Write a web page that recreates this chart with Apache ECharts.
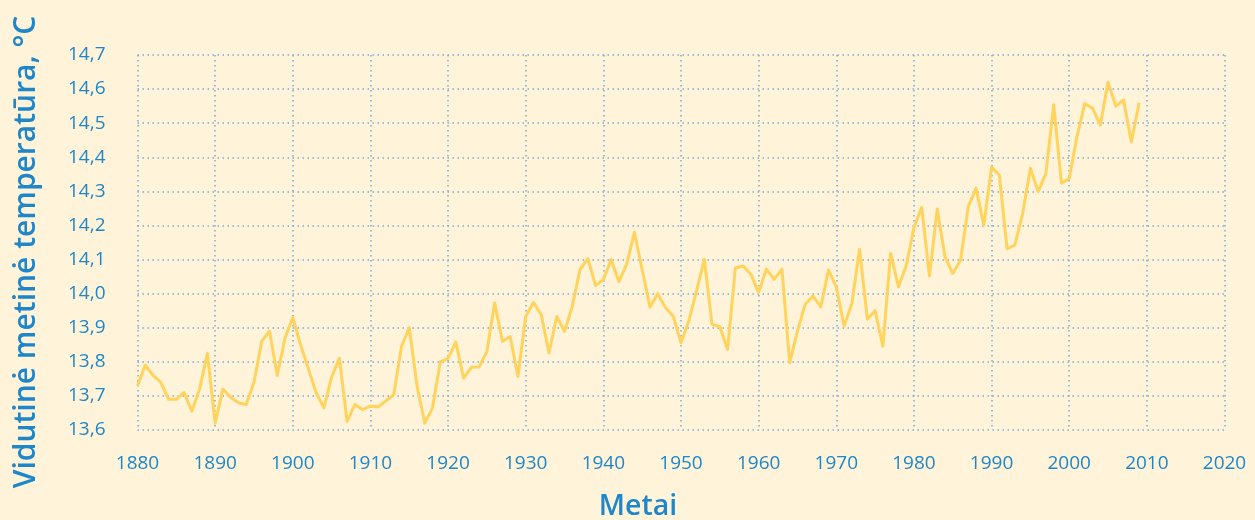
<!DOCTYPE html>
<html>
<head>
<meta charset="utf-8">
<script src="https://cdn.jsdelivr.net/npm/echarts@6/dist/echarts.min.js"></script>
<style>
  html, body { margin: 0; padding: 0; background: #fff4d9; }
  #chart { width: 1255px; height: 520px; }
</style>
</head>
<body>
<div id="chart"></div>
<script>
// ---- data ----
const firstYear = 1880;
const temps1880s = [13.73, 13.79, 13.76, 13.74, 13.69, 13.69, 13.71, 13.655, 13.72, 13.825];
const temps1890s = [13.62, 13.72, 13.695, 13.68, 13.675, 13.74, 13.86, 13.89, 13.76, 13.87];
const temps1900s = [13.93, 13.85, 13.78, 13.71, 13.665, 13.755, 13.81, 13.625, 13.675, 13.66];
const temps1910s = [13.67, 13.668, 13.686, 13.703, 13.845, 13.90, 13.73, 13.62, 13.665, 13.80];
const temps1920s = [13.81, 13.858, 13.752, 13.784, 13.785, 13.83, 13.973, 13.86, 13.874, 13.757];
const temps1930s = [13.933, 13.974, 13.938, 13.826, 13.933, 13.889, 13.963, 14.071, 14.103, 14.024];
const temps1940s = [14.041, 14.10, 14.035, 14.086, 14.18, 14.07, 13.96, 14.00, 13.959, 13.934];
const temps1950s = [13.856, 13.92, 14.008, 14.10, 13.91, 13.903, 13.836, 14.075, 14.081, 14.057];
const temps1960s = [14.003, 14.072, 14.042, 14.072, 13.797, 13.89, 13.969, 13.993, 13.961, 14.069];
const temps1970s = [14.02, 13.905, 13.97, 14.13, 13.925, 13.95, 13.846, 14.118, 14.02, 14.081];
const temps1980s = [14.194, 14.253, 14.052, 14.248, 14.108, 14.059, 14.098, 14.255, 14.309, 14.201];
const temps1990s = [14.371, 14.348, 14.132, 14.142, 14.235, 14.368, 14.299, 14.353, 14.554, 14.324];
const temps2000s = [14.338, 14.46, 14.558, 14.544, 14.494, 14.62, 14.55, 14.568, 14.445, 14.56];

const xTicks = [1880, 1890, 1900, 1910, 1920, 1930, 1940, 1950, 1960, 1970, 1980, 1990, 2000, 2010, 2020];
const yTicks = [13.6, 13.7, 13.8, 13.9, 14.0, 14.1, 14.2, 14.3, 14.4, 14.5, 14.6, 14.7];

const yTitle = 'Vidutinė metinė temperatūra, °C';
const xTitle = 'Metai';

// ---- build ----
const temps = [].concat(temps1880s, temps1890s, temps1900s, temps1910s, temps1920s,
  temps1930s, temps1940s, temps1950s, temps1960s, temps1970s, temps1980s, temps1990s, temps2000s);
const seriesData = temps.map((v, i) => [firstYear + i, v]);

const blue = '#1e86c9';
const gridColor = '#7da9d6';
const font = 'Open Sans';

const chart = echarts.init(document.getElementById('chart'), null, { renderer: 'canvas' });
chart.setOption({
  backgroundColor: '#fff4d9',
  animation: false,
  grid: { left: 137.5, right: 30.5, top: 55, bottom: 90, containLabel: false },
  xAxis: {
    type: 'value',
    min: xTicks[0],
    max: xTicks[xTicks.length - 1],
    interval: 10,
    axisLine: { show: false },
    axisTick: { show: false },
    axisLabel: {
      color: blue, fontFamily: font, fontSize: 19, margin: 24,
      formatter: v => String(v)
    },
    splitLine: { show: true, lineStyle: { color: gridColor, width: 1.5, type: [1.5, 3.5] } }
  },
  yAxis: {
    type: 'value',
    min: yTicks[0],
    max: yTicks[yTicks.length - 1],
    interval: 0.1,
    axisLine: { show: false },
    axisTick: { show: false },
    axisLabel: {
      color: blue, fontFamily: font, fontSize: 19, margin: 32,
      formatter: v => v.toFixed(1).replace('.', ',')
    },
    splitLine: { show: true, lineStyle: { color: gridColor, width: 1.5, type: [1.5, 3.5] } }
  },
  graphic: [
    {
      type: 'text', x: 26, y: 252, rotation: Math.PI / 2,
      style: { text: yTitle, fill: blue, font: '600 30px "Open Sans"', align: 'center', verticalAlign: 'middle' }
    },
    {
      type: 'text', x: 638, y: 507,
      style: { text: xTitle, fill: blue, font: '600 28.5px "Open Sans"', align: 'center', verticalAlign: 'middle' }
    }
  ],
  series: [{
    type: 'line',
    data: seriesData,
    showSymbol: false,
    symbol: 'none',
    smooth: false,
    lineStyle: { color: '#ffd35c', width: 3, join: 'round' }
  }]
});
</script>
</body>
</html>
